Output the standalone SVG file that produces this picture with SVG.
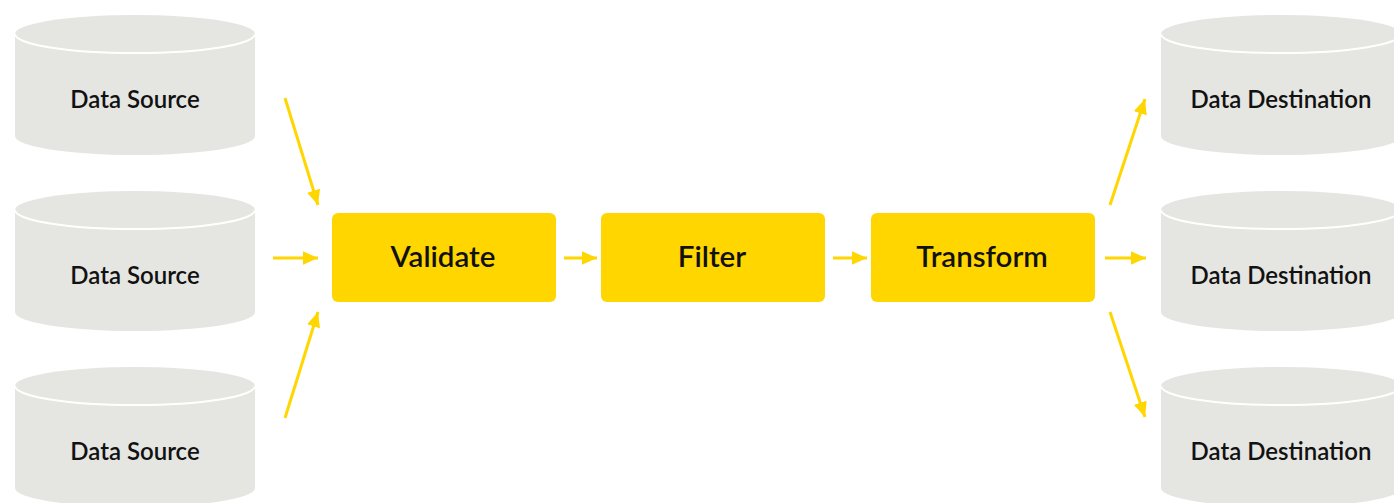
<svg xmlns="http://www.w3.org/2000/svg" width="1394" height="503" viewBox="0 0 1394 503">
<style>
.cyl{fill:#E5E5E1}
.rim{fill:none;stroke:#fff;stroke-width:2}
.lbl{font-family:Lato,"Liberation Sans",sans-serif;font-weight:600;font-size:24px;fill:#111;text-anchor:middle}
.box{fill:#FFD600}
.blbl{font-family:Lato,"Liberation Sans",sans-serif;font-weight:600;font-size:29.5px;fill:#111;text-anchor:middle}
.conn{stroke:#FFD600;stroke-width:3;fill:none;marker-end:url(#ah)}
</style>
<defs>
<marker id="ah" viewBox="0 0 10 10" refX="10" refY="5" markerWidth="5" markerHeight="4.5" orient="auto" markerUnits="strokeWidth" preserveAspectRatio="none">
<path d="M0,0 L10,5 L0,10 Z" fill="#FFD600"/>
</marker>
<path id="cylshape" d="M0,19 A120,19 0 0 1 240,19 L240,121 A120,19 0 0 1 0,121 Z"/>
</defs>
<rect width="1394" height="503" fill="#fff"/>
<g id="src1" transform="translate(15,15)">
<use href="#cylshape" class="cyl"/><path class="rim" d="M0,19 A120,19 0 0 0 240,19"/>
<text class="lbl" x="120" y="93">Data Source</text>
</g>
<g id="src2" transform="translate(15,191)">
<use href="#cylshape" class="cyl"/><path class="rim" d="M0,19 A120,19 0 0 0 240,19"/>
<text class="lbl" x="120" y="93">Data Source</text>
</g>
<g id="src3" transform="translate(15,367)">
<use href="#cylshape" class="cyl"/><path class="rim" d="M0,19 A120,19 0 0 0 240,19"/>
<text class="lbl" x="120" y="93">Data Source</text>
</g>
<g id="validate"><rect class="box" x="332" y="213" width="224" height="89" rx="6"/><text class="blbl" x="443" y="267">Validate</text></g>
<g id="filter"><rect class="box" x="601" y="213" width="224" height="89" rx="6"/><text class="blbl" x="712" y="267">Filter</text></g>
<g id="transform"><rect class="box" x="871" y="213" width="224" height="89" rx="6"/><text class="blbl" x="982" y="267">Transform</text></g>
<g id="dst1" transform="translate(1161,15)">
<use href="#cylshape" class="cyl"/><path class="rim" d="M0,19 A120,19 0 0 0 240,19"/>
<text class="lbl" x="120" y="93">Data Destination</text>
</g>
<g id="dst2" transform="translate(1161,191)">
<use href="#cylshape" class="cyl"/><path class="rim" d="M0,19 A120,19 0 0 0 240,19"/>
<text class="lbl" x="120" y="93">Data Destination</text>
</g>
<g id="dst3" transform="translate(1161,367)">
<use href="#cylshape" class="cyl"/><path class="rim" d="M0,19 A120,19 0 0 0 240,19"/>
<text class="lbl" x="120" y="93">Data Destination</text>
</g>
<g id="connectors">
<line class="conn" x1="285" y1="98" x2="318" y2="205"/>
<line class="conn" x1="273" y1="258" x2="318" y2="258"/>
<line class="conn" x1="285" y1="418" x2="318" y2="312"/>
<line class="conn" x1="564" y1="258" x2="597" y2="258"/>
<line class="conn" x1="833" y1="258" x2="867" y2="258"/>
<line class="conn" x1="1110" y1="205" x2="1145" y2="99"/>
<line class="conn" x1="1105" y1="258" x2="1146" y2="258"/>
<line class="conn" x1="1110" y1="312" x2="1145" y2="417"/>
</g>
</svg>
